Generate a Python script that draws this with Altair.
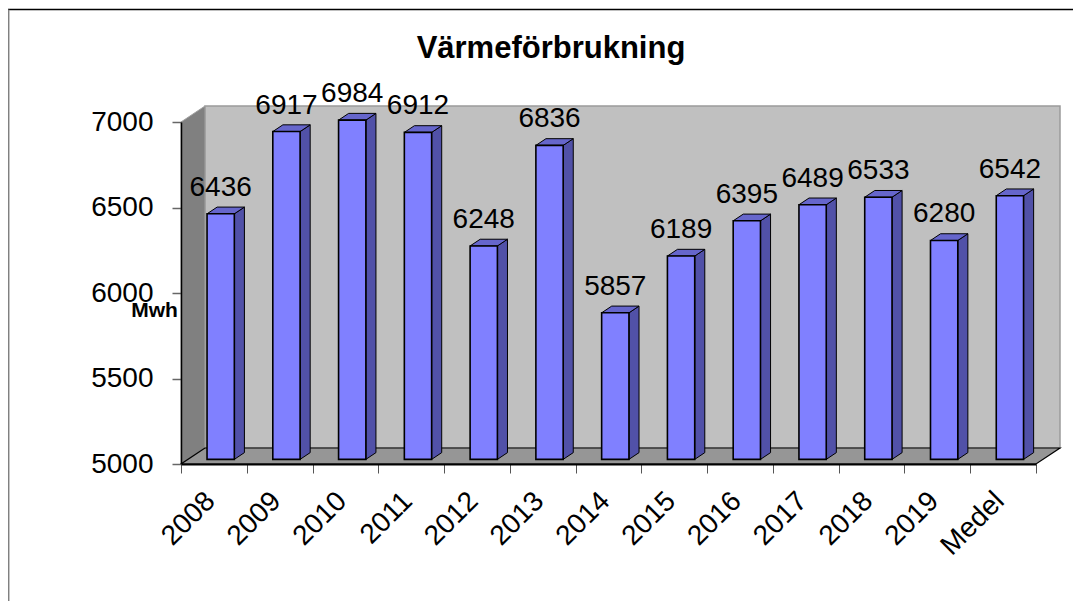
import altair as alt
import pandas as pd

# ---------------- data ----------------
categories = ["2008", "2009", "2010", "2011", "2012", "2013", "2014",
              "2015", "2016", "2017", "2018", "2019", "Medel"]
values = [6436, 6917, 6984, 6912, 6248, 6836, 5857, 6189, 6395, 6489, 6533, 6280, 6542]
y_ticks = [5000, 5500, 6000, 6500, 7000]
title_text = "Värmeförbrukning"
unit_text = "Mwh"

# ---------------- geometry (pseudo 3-D) ----------------
N = len(categories)
Y0, Y1 = 5000, 7000
W, H = 855, 342                 # front plane of the plot
PX_X = W / N                    # pixels per category
PX_Y = H / (Y1 - Y0)            # pixels per value unit
DX = 24 / PX_X                  # full depth, x shift (category units)
DY = 16 / PX_Y                  # full depth, y shift (value units)
DF, DB = 0.29, 0.71             # bar front / back depth fractions
BL, BR = 0.29, 0.705            # bar left/right inside a slot
FONT = "Arial, Liberation Sans, Helvetica, sans-serif"

xs = alt.Scale(domain=[0, N], nice=False, zero=False)
ys = alt.Scale(domain=[Y0, Y1], nice=False, zero=False)

x_axis = alt.Axis(values=list(range(N + 1)), labels=False, ticks=True, tickSize=9,
                  tickColor="#555555", tickWidth=1, domainColor="black", domainWidth=2,
                  grid=False, title=None, zindex=1)
y_axis = alt.Axis(values=y_ticks, format="d", tickSize=9, tickColor="#666666", tickWidth=1.5,
                  domainColor="black", domainWidth=1.5, grid=False,
                  labelFontSize=28, labelFont=FONT, labelColor="black", labelPadding=19,
                  title=unit_text, titleAngle=0, titleFont=FONT, titleFontSize=21,
                  titleFontWeight="bold", titleColor="black", titleAlign="center",
                  titleBaseline="middle", titleX=-27, titleY=188, zindex=1)

def X(f="x"):
    return alt.X(f"{f}:Q", scale=xs, axis=x_axis, stack=None)

def Y(f="y"):
    return alt.Y(f"{f}:Q", scale=ys, axis=y_axis, stack=None)

# walls
back = pd.DataFrame([{"x": DX, "x2": N + DX, "y": Y0 + DY, "y2": Y1 + DY}])
side_wall = pd.DataFrame([{"x": 0, "y": Y0, "y2": Y1},
                          {"x": DX, "y": Y0 + DY, "y2": Y1 + DY}])
floor = pd.DataFrame([{"y": Y0, "x": 0, "x2": N},
                      {"y": Y0 + DY, "x": DX, "x2": N + DX}])

front_rows, side_rows, top_rows, lab_rows, xlab_rows = [], [], [], [], []
for i, (c, v) in enumerate(zip(categories, values)):
    xl = i + BL + DF * DX
    xr = i + BR + DF * DX
    yb = Y0 + DF * DY
    yt = v + DF * DY
    ddx = (DB - DF) * DX
    ddy = (DB - DF) * DY
    front_rows.append({"x": xl, "x2": xr, "y": yb, "y2": yt})
    side_rows += [{"id": i, "x": xr, "y": yb, "y2": yt},
                  {"id": i, "x": xr + ddx, "y": yb + ddy, "y2": yt + ddy}]
    top_rows += [{"id": i, "y": yt, "x": xl, "x2": xr},
                 {"id": i, "y": yt + ddy, "x": xl + ddx, "x2": xr + ddx}]
    lab_rows.append({"x": (xl + xr) / 2, "y": yt + 18 / PX_Y, "t": str(v)})
    xlab_rows.append({"x": i + 0.5 - 3 / PX_X, "y": Y0 - 33 / PX_Y, "t": c})

front = pd.DataFrame(front_rows)
side = pd.DataFrame(side_rows)
top = pd.DataFrame(top_rows)
labs = pd.DataFrame(lab_rows)
xlabs = pd.DataFrame(xlab_rows)
title_df = pd.DataFrame([{"t": title_text}])

back_l = alt.Chart(back).mark_rect(fill="#C0C0C0", stroke="#9A9A9A", strokeWidth=1.5).encode(
    x=X(), x2="x2:Q", y=Y(), y2="y2:Q")
side_l = alt.Chart(side_wall).mark_area(fill="#808080", stroke="#A0A0A0", strokeWidth=1,
                                        orient="vertical").encode(
    x=X(), y=Y(), y2="y2:Q")
floor_l = alt.Chart(floor).mark_area(fill="#969696", stroke="black", strokeWidth=1.2,
                                     orient="horizontal").encode(
    y=Y(), x=X(), x2="x2:Q")

bar_side = alt.Chart(side).mark_area(fill="#5151A8", stroke="black", strokeWidth=1,
                                     orient="vertical").encode(
    x=X(), y=Y(), y2="y2:Q", detail="id:N")
bar_top = alt.Chart(top).mark_area(fill="#6666CC", stroke="black", strokeWidth=1,
                                   orient="horizontal").encode(
    y=Y(), x=X(), x2="x2:Q", detail="id:N")
bar_front = alt.Chart(front).mark_rect(fill="#8080FF", stroke="black", strokeWidth=1.6).encode(
    x=X(), x2="x2:Q", y=Y(), y2="y2:Q")

val_text = alt.Chart(labs).mark_text(font=FONT, fontSize=28, color="black",
                                     align="center", baseline="alphabetic").encode(
    x=X(), y=Y(), text="t:N")
cat_text = alt.Chart(xlabs).mark_text(font=FONT, fontSize=28, color="black", angle=315,
                                      align="right", baseline="middle").encode(
    x=X(), y=Y(), text="t:N")

title_l = alt.Chart(title_df).mark_text(font=FONT, fontSize=31, fontWeight="bold",
                                        color="black", align="center",
                                        baseline="alphabetic").encode(
    x=alt.value(370), y=alt.value(-64), text="t:N")

frame_top = alt.Chart(back).mark_rule(color="black", strokeWidth=1.5).encode(
    x=alt.value(-173), x2=alt.value(892), y=alt.value(-112.5))
frame_left = alt.Chart(back).mark_rule(color="#808080", strokeWidth=1.5).encode(
    x=alt.value(-172.3), y=alt.value(-112.5), y2=alt.value(480))

chart = alt.layer(
    back_l, side_l, floor_l, bar_side, bar_top, bar_front, val_text, cat_text,
    title_l, frame_top, frame_left
).properties(
    width=W, height=H,
    autosize=alt.AutoSizeParams(type="none"),
    padding={"left": 173, "top": 114, "right": 38, "bottom": 137},
    background="white",
).configure_view(stroke=None)

chart.save("out.html", embed_options={"renderer": "svg", "actions": False})
